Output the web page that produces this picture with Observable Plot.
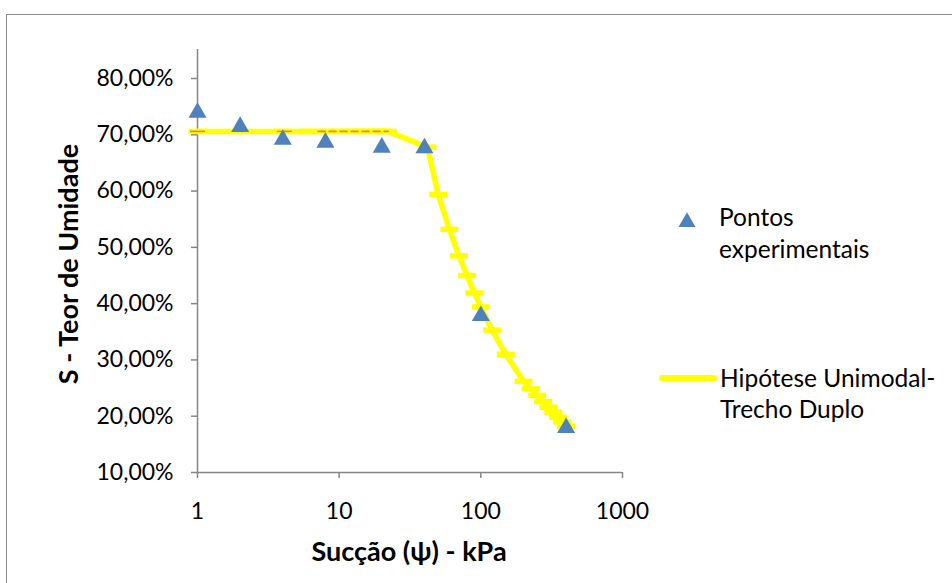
<!DOCTYPE html>
<html>
<head>
<meta charset="utf-8">
<script src="https://cdn.jsdelivr.net/npm/d3@7"></script>
<script src="https://cdn.jsdelivr.net/npm/@observablehq/plot@0.6"></script>
<style>
  body { margin: 0; background: #fff; }
  #wrap { position: relative; width: 952px; height: 583px; overflow: hidden; background: #fff; }
  #frame { position: absolute; left: 6px; top: 14px; width: 1200px; height: 1200px;
           border-left: 1.5px solid #8a8a8a; border-top: 1.5px solid #8a8a8a; box-sizing: border-box; }
  #chart { position: absolute; left: 0; top: 0; }
</style>
</head>
<body>
<div id="wrap"><div id="frame"></div><div id="chart"></div></div>
<script>
// Experimental points
const pointSuction  = [1, 2, 4, 8, 20, 40, 100, 400];
const pointMoisture = [0.744, 0.719, 0.696, 0.691, 0.682, 0.681, 0.383, 0.184];

// Hypothesis curve (Unimodal - Trecho Duplo)
const curveSuction  = [1, 2, 4, 6, 8, 10, 12, 14, 16, 18, 20, 22, 42, 50, 60, 70, 80, 90, 100, 120, 150, 200, 225, 250, 275, 300, 325, 350, 375, 400];
const curveMoisture = [0.706, 0.706, 0.706, 0.706, 0.706, 0.706, 0.706, 0.706, 0.706, 0.706, 0.706, 0.706,
                       0.678, 0.594, 0.532, 0.485, 0.450, 0.419, 0.394, 0.353, 0.310, 0.262, 0.249, 0.237,
                       0.226, 0.216, 0.207, 0.198, 0.190, 0.182];

// Hidden overlapped series (orange dashes visible on the flat part)
const hiddenDashSuction  = [7.1, 22.2];
const hiddenDashMoisture = [0.706, 0.706];
const hiddenTickSuction  = [1, 4.1];
const hiddenTickMoisture = [0.706, 0.706];

// Axis ticks
const xTicks = [1, 10, 100, 1000];
const yTicks = [0.1, 0.2, 0.3, 0.4, 0.5, 0.6, 0.7, 0.8];

const points = pointSuction.map((s, i) => ({s, m: pointMoisture[i]}));
const curve = curveSuction.map((s, i) => ({s, m: curveMoisture[i]}));
const hiddenDash = hiddenDashSuction.map((s, i) => ({s, m: hiddenDashMoisture[i]}));
const hiddenTick = hiddenTickSuction.map((s, i) => ({s, m: hiddenTickMoisture[i]}));

const dash = { draw(ctx, size) { const r = Math.sqrt(size / Math.PI); ctx.moveTo(-r, 0); ctx.lineTo(r, 0); } };

const YELLOW = "#FFFF00", BLUE = "#4F81BD", AXIS = "#868686";
const FONT = "Lato, 'Open Sans', sans-serif";
const fmtPct = d => (d * 100).toFixed(2).replace(".", ",") + "%";

const plot = Plot.plot({
  width: 952, height: 583,
  marginLeft: 197, marginRight: 330, marginTop: 49, marginBottom: 111,
  style: { fontFamily: FONT, fontSize: "23px", color: "#000", background: "transparent", overflow: "visible" },
  x: { type: "log", domain: [1, 1000] },
  y: { domain: [0.1, 0.8515] },
  marks: [
    Plot.axisY({ ticks: yTicks, tickFormat: fmtPct, tickSize: 6, tickPadding: 18, stroke: AXIS, strokeWidth: 1.5, fill: "#000", fontSize: 23, label: null }),
    Plot.axisX({ ticks: xTicks, tickFormat: d => String(d), tickSize: 6, tickPadding: 24, stroke: AXIS, strokeWidth: 1.5, fill: "#000", fontSize: 23, label: null }),
    Plot.ruleX([1], { stroke: AXIS, strokeWidth: 1.5 }),
    Plot.ruleY([0.1], { stroke: AXIS, strokeWidth: 1.5 }),
    Plot.line(curve, { x: "s", y: "m", stroke: YELLOW, strokeWidth: 5.5, strokeLinejoin: "round" }),
    Plot.dot(curve, { x: "s", y: "m", symbol: dash, r: 9, fill: "none", stroke: YELLOW, strokeWidth: 5.5 }),
    Plot.line(hiddenDash, { x: "s", y: "m", stroke: "#DB8A2E", strokeWidth: 1.6, strokeDasharray: "7,4" }),
    Plot.dot(hiddenTick, { x: "s", y: "m", symbol: dash, r: 7.5, fill: "none", stroke: "#DB8A2E", strokeWidth: 1.6 }),
    Plot.dot(points, { x: "s", y: "m", symbol: "triangle", r: 6.7, fill: BLUE, stroke: "none", dy: 2.6 })
  ]
});
document.getElementById("chart").appendChild(plot);

// Titles and legend
const svg = d3.select(plot);
const g = svg.append("g").attr("font-family", FONT).attr("fill", "#000").attr("text-anchor", "start");
g.append("text").attr("transform", "translate(67,264) rotate(-90)")
  .attr("text-anchor", "middle").attr("dominant-baseline", "central")
  .attr("font-size", 27).attr("font-weight", "bold").text("S - Teor de Umidade");
g.append("text").attr("x", 409).attr("y", 561).attr("text-anchor", "middle")
  .attr("font-size", 27).attr("font-weight", "bold").text("Sucção (ψ) - kPa");

// legend: triangle
g.append("path").attr("d", d3.symbol(d3.symbolTriangle, 125)()).attr("transform", "translate(687,222)").attr("fill", BLUE);
const t1 = g.append("text").attr("font-size", 24.5).attr("text-anchor", "start");
t1.append("tspan").attr("x", 719).attr("y", 226).text("Pontos");
t1.append("tspan").attr("x", 719).attr("y", 258).text("experimentais");
// legend: yellow line
g.append("line").attr("x1", 662).attr("x2", 714).attr("y1", 378).attr("y2", 378)
  .attr("stroke", YELLOW).attr("stroke-width", 6).attr("stroke-linecap", "round");
const t2 = g.append("text").attr("font-size", 24.5).attr("text-anchor", "start");
t2.append("tspan").attr("x", 720).attr("y", 387).text("Hipótese Unimodal-");
t2.append("tspan").attr("x", 720).attr("y", 418).text("Trecho Duplo");
</script>
</body>
</html>
